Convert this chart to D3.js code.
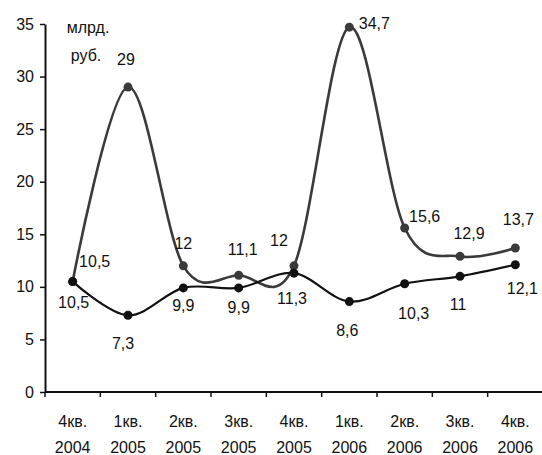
<!DOCTYPE html>
<html>
<head>
<meta charset="utf-8">
<script src="https://cdn.jsdelivr.net/npm/d3@7"></script>
<style>
  html, body { margin: 0; padding: 0; background: #fff; }
  svg { display: block; }
  text { font-family: "Liberation Sans", Arial, sans-serif; fill: #111; }
</style>
</head>
<body>
<svg id="chart" width="542" height="455"></svg>
<script>
// Quarters on the x axis (two text lines each)
const quarters = ["4кв.", "1кв.", "2кв.", "3кв.", "4кв.", "1кв.", "2кв.", "3кв.", "4кв."];
const years = ["2004", "2005", "2005", "2005", "2005", "2006", "2006", "2006", "2006"];

// Series values, млрд. руб.
const upperSeries = [10.5, 29, 12, 11.1, 12, 34.7, 15.6, 12.9, 13.7];
const lowerSeries = [10.5, 7.3, 9.9, 9.9, 11.3, 8.6, 10.3, 11, 12.1];

// Y axis tick values
const yTicks = [0, 5, 10, 15, 20, 25, 30, 35];

// Value-label offsets from their points (layout only)
const upperLabelOffsets = [[22, -15], [-2, -22], [0, -17], [4, -20], [-15, -20], [25, 2], [20, -6], [9, -17], [3, -23]];
const lowerLabelOffsets = [[1, 26], [-5, 34], [0, 23], [0, 25], [-2, 31], [-2, 34], [9, 35], [-2, 34], [7, 29]];

const svg = d3.select("#chart");
const fontSize = 16;

const x = d3.scaleBand()
  .domain(d3.range(quarters.length))
  .range([45, 543])
  .padding(0);
const y = d3.scaleLinear().domain([0, 35]).range([392, 24]);
const cx = i => x(i) + x.bandwidth() / 2;

// Y axis
const yAxis = svg.append("g")
  .attr("transform", "translate(45,0)")
  .call(d3.axisLeft(y).tickValues(yTicks).tickSize(5).tickSizeOuter(0).tickPadding(6));
yAxis.select(".domain").attr("stroke", "#111").attr("stroke-width", 2);
yAxis.selectAll(".tick line").attr("stroke", "#111").attr("stroke-width", 1.5);
yAxis.selectAll(".tick text")
  .attr("font-size", fontSize)
  .attr("font-family", "Liberation Sans, Arial, sans-serif")
  .attr("fill", "#111");

// X axis: ticks at category boundaries
const xAxisG = svg.append("g").attr("transform", "translate(0,392)");
xAxisG.append("line")
  .attr("x1", 45).attr("x2", 543)
  .attr("stroke", "#111").attr("stroke-width", 2);
xAxisG.selectAll("line.tick")
  .data(d3.range(quarters.length))
  .join("line")
  .attr("class", "tick")
  .attr("x1", i => x(i)).attr("x2", i => x(i))
  .attr("y1", 0).attr("y2", 5)
  .attr("stroke", "#111").attr("stroke-width", 1.5);

svg.append("g").selectAll("text")
  .data(quarters)
  .join("text")
  .attr("x", (d, i) => cx(i))
  .attr("y", 427)
  .attr("text-anchor", "middle")
  .attr("font-size", fontSize)
  .text(d => d);
svg.append("g").selectAll("text")
  .data(years)
  .join("text")
  .attr("x", (d, i) => cx(i))
  .attr("y", 453)
  .attr("text-anchor", "middle")
  .attr("font-size", fontSize)
  .text(d => d);

// Units caption
svg.append("text").attr("x", 88).attr("y", 33).attr("text-anchor", "middle")
  .attr("font-size", fontSize).text("млрд.");
svg.append("text").attr("x", 86).attr("y", 61).attr("text-anchor", "middle")
  .attr("font-size", fontSize).text("руб.");

// Smoothed lines
const line = d3.line()
  .x((d, i) => cx(i))
  .y(d => y(d))
  .curve(d3.curveCatmullRom.alpha(0));

function drawSeries(values, color, width, r) {
  svg.append("path")
    .datum(values)
    .attr("fill", "none")
    .attr("stroke", color)
    .attr("stroke-width", width)
    .attr("d", line);
  svg.append("g").selectAll("circle")
    .data(values)
    .join("circle")
    .attr("cx", (d, i) => cx(i))
    .attr("cy", d => y(d))
    .attr("r", r)
    .attr("fill", color);
}

drawSeries(upperSeries, "#3a3a3a", 2.6, 4.5);
drawSeries(lowerSeries, "#111", 2.2, 4.5);

const fmt = v => String(v).replace(".", ",");
function drawLabels(values, offsets) {
  svg.append("g").selectAll("text")
    .data(values)
    .join("text")
    .attr("x", (d, i) => cx(i) + offsets[i][0])
    .attr("y", (d, i) => y(d) + offsets[i][1])
    .attr("text-anchor", "middle")
    .attr("font-size", fontSize)
    .text(d => fmt(d));
}
drawLabels(upperSeries, upperLabelOffsets);
drawLabels(lowerSeries, lowerLabelOffsets);
</script>
</body>
</html>
